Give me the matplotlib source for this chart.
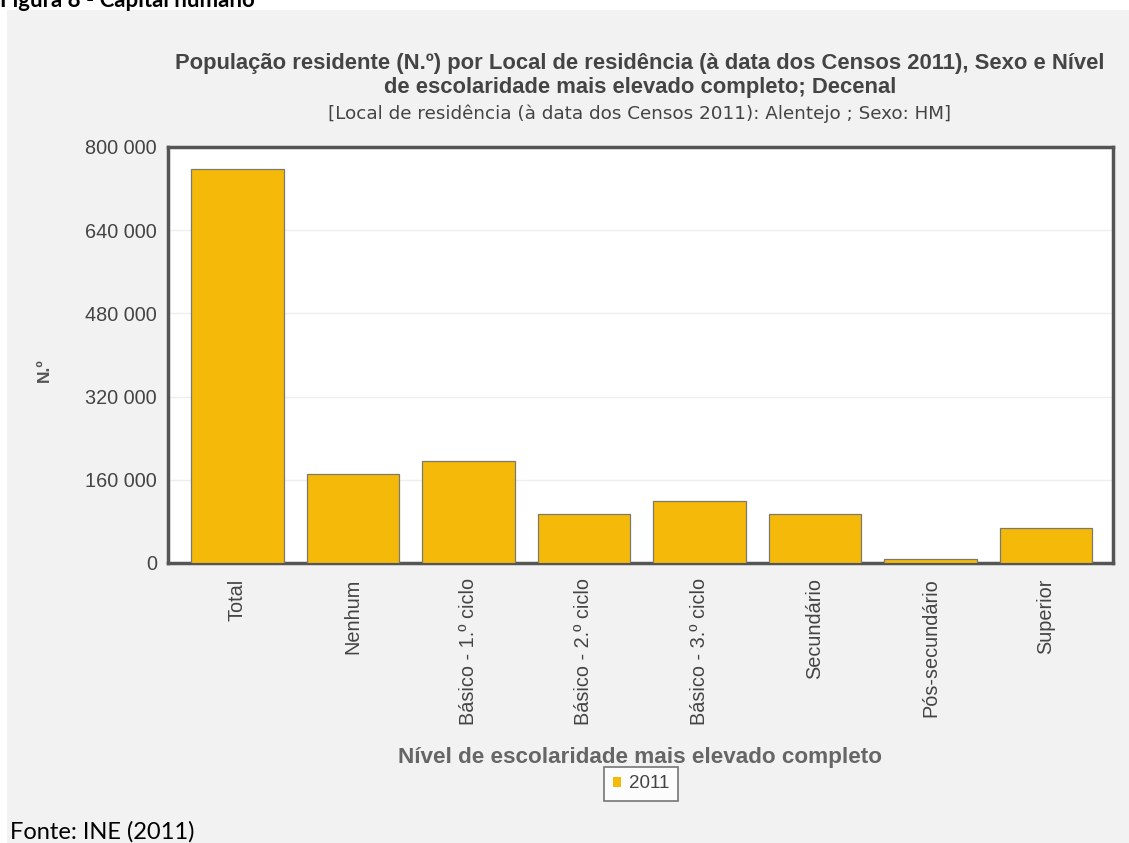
import matplotlib
matplotlib.use("Agg")
import matplotlib.pyplot as plt
from matplotlib.patches import Rectangle, Patch
from matplotlib.ticker import FuncFormatter

# Population by highest completed education level, Alentejo, Census 2011
categories = ["Total", "Nenhum", "Básico - 1.º ciclo", "Básico - 2.º ciclo",
              "Básico - 3.º ciclo", "Secundário", "Pós-secundário", "Superior"]
values_2011 = [757302, 171500, 197000, 93800, 119800, 93400, 7800, 67600]
y_ticks = [0, 160000, 320000, 480000, 640000, 800000]
series_name = "2011"

plt.rcParams["font.family"] = ["Liberation Sans", "DejaVu Sans"]

W, H = 1129, 843
fig = plt.figure(figsize=(W / 100, H / 100), dpi=100, facecolor="white")

# Grey panel behind the chart
fig.patches.append(Rectangle((7 / W, 0), 1 - 7 / W, 1 - 10 / H,
                             transform=fig.transFigure, facecolor="#f2f2f2",
                             edgecolor="none", zorder=-5))

ax = fig.add_axes([168 / W, (H - 563) / H, 945 / W, 416 / H])
ax.set_zorder(1)
ax.set_facecolor("white")

x = list(range(len(categories)))
ax.bar(x, values_2011, width=0.8, color="#F5B90A", edgecolor="#7a7a6a",
       linewidth=0.9, zorder=3)

ax.set_xlim(-0.6, len(categories) - 0.42)
ax.set_ylim(0, 800000)
ax.set_yticks(y_ticks)
ax.yaxis.set_major_formatter(FuncFormatter(lambda v, p: f"{int(v):,}".replace(",", " ")))
ax.grid(axis="y", color="#eeeeee", linewidth=1, zorder=0)
ax.set_axisbelow(True)

ax.set_xticks(x)
ax.set_xticklabels(categories, rotation=90, va="top", ha="center")
ax.tick_params(axis="both", length=0, labelsize=14.3, labelcolor="#444444")
ax.tick_params(axis="x", pad=11)
ax.tick_params(axis="y", pad=8)

for s in ax.spines.values():
    s.set_color("#555555")
    s.set_linewidth(2.5)

# Titles
fig.text(640 / W, 1 - 63 / H,
         "População residente (N.º) por Local de residência (à data dos Censos 2011), Sexo e Nível",
         ha="center", va="center", fontsize=15.8, fontweight="bold", color="#444444")
fig.text(640 / W, 1 - 87 / H, "de escolaridade mais elevado completo; Decenal",
         ha="center", va="center", fontsize=15.8, fontweight="bold", color="#444444")
fig.text(640 / W, 1 - 114 / H,
         "[Local de residência (à data dos Censos 2011): Alentejo ; Sexo: HM]",
         ha="center", va="center", fontsize=13.2, color="#444444", family="DejaVu Sans")

fig.text(44 / W, 1 - 370 / H, "N.º", rotation=90, ha="center", va="center",
         fontsize=12.5, fontweight="bold", color="#555555")
fig.text(640 / W, 1 - 758 / H, "Nível de escolaridade mais elevado completo",
         ha="center", va="center", fontsize=16.2, fontweight="bold", color="#666666")

# Legend
handle = Patch(facecolor="#F5B90A", edgecolor="none", label=series_name)
leg = fig.legend(handles=[handle], loc="center", bbox_to_anchor=(641 / W, 1 - 784 / H),
                 frameon=True, fancybox=False, handlelength=0.45, handleheight=0.45,
                 handletextpad=0.4, borderpad=0.45, fontsize=13.5)
leg.get_frame().set_edgecolor("#555555")
leg.get_frame().set_linewidth(1.2)
for t in leg.get_texts():
    t.set_color("#444444")

# Figure heading and source note
fig.text(0, 1 - 7 / H, "Figura 8 - Capital humano", ha="left", va="baseline",
         fontsize=16, fontweight="bold", color="black", family="Lato")
fig.text(10 / W, 4 / H, "Fonte: INE (2011)", ha="left", va="baseline",
         fontsize=17, color="black", family="Lato", zorder=5)

fig.savefig("out.png", dpi=100, facecolor="white")
